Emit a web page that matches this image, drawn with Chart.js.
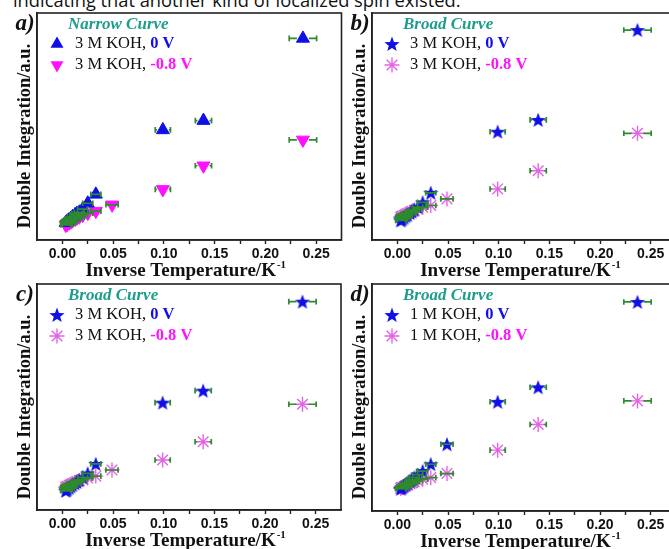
<!DOCTYPE html>
<html><head><meta charset="utf-8">
<script src="https://cdn.jsdelivr.net/npm/chart.js@4.4.0/dist/chart.umd.min.js"></script>
<style>
html,body{margin:0;padding:0;background:#fff;}
body{overflow:hidden;width:669px;height:549px;position:relative}
.pn{position:absolute}
.pn canvas{display:block}
#top{position:absolute;left:13px;top:-10px;font-family:"Open Sans";font-size:18.3px;line-height:20px;white-space:nowrap;color:#111}
</style></head><body>
<div id="top">indicating that another kind of localized spin existed.</div>
<div class="pn" style="left:0;top:0"><canvas id="ca" width="350" height="282"></canvas></div>
<div class="pn" style="left:335px;top:0"><canvas id="cb" width="350" height="282"></canvas></div>
<div class="pn" style="left:0;top:271px"><canvas id="cc" width="350" height="278"></canvas></div>
<div class="pn" style="left:335px;top:271px"><canvas id="cd" width="350" height="278"></canvas></div>
<script>
// ---------- data ----------
const xCluster = [0.0033,0.004,0.005,0.0067,0.0083,0.01,0.0125,0.0143,0.0167,0.02,0.025,0.033];
const xErrCluster = [0.005,0.005,0.005,0.005,0.005,0.005,0.005,0.005,0.005,0.005,0.005,0.005];
const xTail3 = [0.099,0.139,0.237];
const xErrTail3 = [0.0075,0.008,0.0135];
const xTail4 = [0.049,0.099,0.139,0.237];
const xErrTail4 = [0.006,0.0075,0.008,0.0135];

const a0V  = [0.76,0.79,0.83,0.89,0.95,1.02,1.11,1.17,1.22,1.36,1.62,2.01, 4.85,5.26,8.88];
const aM08 = [0.66,0.68,0.71,0.76,0.80,0.85,0.92,0.97,1.02,1.09,1.18,1.27, 1.55,2.23,3.27,4.41];
const b0V  = [0.86,0.89,0.93,0.99,1.05,1.10,1.19,1.25,1.33,1.45,1.66,2.08, 4.77,5.29,9.25];
const bM08 = [1.00,1.02,1.05,1.09,1.13,1.17,1.22,1.26,1.31,1.37,1.44,1.52, 1.81,2.25,3.05,4.70];
const c0V  = [0.85,0.88,0.92,0.98,1.04,1.10,1.18,1.24,1.32,1.44,1.62,2.04, 4.75,5.28,9.22];
const cM08 = [1.00,1.02,1.05,1.09,1.13,1.17,1.22,1.26,1.31,1.36,1.42,1.50, 1.77,2.21,3.02,4.68];
const d0V  = [0.98,1.01,1.05,1.11,1.17,1.23,1.32,1.38,1.48,1.60,1.76,2.06, 2.94,4.81,5.45,9.21];
const dM08 = [1.00,1.02,1.04,1.08,1.11,1.15,1.20,1.24,1.29,1.34,1.40,1.47, 1.65,2.68,3.81,4.85];

const xTickMin = -0.025, xTickMax = 0.275, xStep = 0.025;
const yMin = 0, yMax = 10;

const panelLetters = ['a)','b)','c)','d)'];
const curveTitles = ['Narrow Curve','Broad Curve','Broad Curve','Broad Curve'];
const electrolytes = ['3 M KOH, ','3 M KOH, ','3 M KOH, ','1 M KOH, '];
const potentials = ['0 V','-0.8 V'];
const yTitle = 'Double Integration/a.u.';
const xTitle = 'Inverse Temperature/K';
const xTitleSup = '-1';

// ---------- styles ----------
const BLUE = '#1010e6', MAG = '#ff10ff', AST = '#e563e5', GREEN = '#2f8a2f', TEAL = '#1f9c8c', AXIS = '#222';

function makeStar(r, color){
  const c = document.createElement('canvas');
  const s = Math.ceil(r*2+2); c.width = s; c.height = s;
  const g = c.getContext('2d');
  drawStar(g, s/2, s/2 + r*0.08, r, color);
  return c;
}
function drawStar(g, cx, cy, r, color){
  const ri = r*0.42;
  g.beginPath();
  for (let i=0;i<10;i++){
    const rr = i%2===0 ? r : ri;
    const a = -Math.PI/2 + i*Math.PI/5;
    const px = cx + rr*Math.cos(a), py = cy + rr*Math.sin(a);
    if (i===0) g.moveTo(px,py); else g.lineTo(px,py);
  }
  g.closePath(); g.fillStyle = color; g.fill();
}
const starImg = makeStar(8, BLUE);

function join(xa, xb){ return xa.concat(xb); }
function pts(xs, ys){ return xs.map((x,i)=>({x:x, y:ys[i]})); }

function seriesDefs(kind, ys0, ysM, tail0){
  const x0 = join(xCluster, tail0 ? xTail4 : xTail3);
  const e0 = join(xErrCluster, tail0 ? xErrTail4 : xErrTail3);
  const xM = join(xCluster, xTail4);
  const eM = join(xErrCluster, xErrTail4);
  let d0, dM;
  if (kind === 'tri'){
    d0 = {data: pts(x0, ys0), errX: e0, pointStyle:'triangle', rotation:0, pointRadius:7.5,
          backgroundColor: BLUE, borderColor: BLUE, borderWidth:1, marker:'up', mcolor:BLUE};
    dM = {data: pts(xM, ysM), errX: eM, pointStyle:'triangle', rotation:180, pointRadius:7.5,
          backgroundColor: MAG, borderColor: MAG, borderWidth:1, marker:'down', mcolor:MAG};
  } else {
    d0 = {data: pts(x0, ys0), errX: e0, pointStyle: starImg, pointRadius:8,
          backgroundColor: BLUE, borderColor: BLUE, marker:'star', mcolor:BLUE};
    dM = {data: pts(xM, ysM), errX: eM, pointStyle:'star', pointRadius:7.5, rotation:0,
          backgroundColor: AST, borderColor: AST, borderWidth:1.4, marker:'ast', mcolor:AST};
  }
  d0.showLine = false; dM.showLine = false;
  return [d0, dM];
}

// error bars: drawn over the markers; for wide bars the part hidden behind the marker is left out
const errPlugin = {
  id:'errbars',
  afterDatasetsDraw(chart){
    const {ctx, scales:{x, y}} = chart;
    ctx.save();
    ctx.strokeStyle = GREEN; ctx.lineWidth = 1.7;
    chart.data.datasets.forEach(ds=>{
      ds.data.forEach((p,i)=>{
        const e = ds.errX[i];
        const x1 = x.getPixelForValue(p.x - e), x2 = x.getPixelForValue(p.x + e);
        const pc = x.getPixelForValue(p.x);
        const py = y.getPixelForValue(p.y);
        const gap = (pc - x1) > 7 ? 6 : 0;
        ctx.beginPath();
        if (gap){
          ctx.moveTo(x1,py); ctx.lineTo(pc-gap,py);
          ctx.moveTo(pc+gap,py); ctx.lineTo(x2,py);
        } else {
          ctx.moveTo(x1,py); ctx.lineTo(x2,py);
        }
        ctx.moveTo(x1,py-2.8); ctx.lineTo(x1,py+2.8);
        ctx.moveTo(x2,py-2.8); ctx.lineTo(x2,py+2.8);
        ctx.stroke();
      });
    });
    ctx.restore();
  }
};

function drawMarker(g, type, cx, cy, color){
  g.save();
  g.fillStyle = color; g.strokeStyle = color;
  if (type === 'up' || type === 'down'){
    const r = 7.5, s = type==='up' ? 1 : -1;
    g.beginPath();
    for (let k=0;k<3;k++){
      const a = k*2*Math.PI/3;
      const px = cx + Math.sin(a)*r, py = cy - s*Math.cos(a)*r;
      if (k===0) g.moveTo(px,py); else g.lineTo(px,py);
    }
    g.closePath(); g.fill();
  } else if (type === 'star'){
    drawStar(g, cx, cy+0.6, 8, color);
  } else {
    g.lineWidth = 1.4;
    const r = 7.5;
    g.beginPath();
    for (let k=0;k<4;k++){
      const a = k*Math.PI/4;
      g.moveTo(cx - r*Math.cos(a), cy - r*Math.sin(a));
      g.lineTo(cx + r*Math.cos(a), cy + r*Math.sin(a));
    }
    g.stroke();
  }
  g.restore();
}

const textPlugin = {
  id:'texts',
  afterDraw(chart){
    const g = chart.ctx;
    const {left:L, top:T, right:R, bottom:B} = chart.chartArea;
    const o = chart.options.plugins.texts;
    g.save();
    // frame
    g.strokeStyle = AXIS; g.lineWidth = 1.6;
    g.strokeRect(L, T, R-L, B-T);
    // panel letter
    g.fillStyle = '#111';
    g.font = 'italic bold 23px "Liberation Serif"';
    g.textAlign = 'center'; g.textBaseline = 'middle';
    g.fillText(o.letter, L-12, T+11);
    // y title
    g.save();
    g.translate(L-12, T+123);
    g.rotate(-Math.PI/2);
    g.font = 'bold 18.5px "Liberation Serif"';
    g.textAlign = 'center'; g.textBaseline = 'middle';
    g.fillText(yTitle, 0, 0);
    g.restore();
    // x title
    g.font = 'bold 19px "Liberation Serif"';
    const wMain = g.measureText(xTitle).width;
    g.font = 'bold 11px "Liberation Serif"';
    const wSup = g.measureText(xTitleSup).width;
    const cx = (L+R)/2 - 4;
    const x0 = cx - (wMain + wSup)/2;
    g.textAlign = 'left'; g.textBaseline = 'alphabetic';
    g.font = 'bold 19px "Liberation Serif"';
    g.fillText(xTitle, x0, B+36);
    g.font = 'bold 11px "Liberation Serif"';
    g.fillText(xTitleSup, x0 + wMain + 1, B+28);
    // legend
    g.textBaseline = 'middle';
    g.font = 'italic bold 17px "Liberation Serif"';
    g.fillStyle = TEAL;
    g.fillText(o.title, L+31, T+12);
    chart.data.datasets.forEach((ds, i)=>{
      const yy = T + 31 + i*21;
      drawMarker(g, ds.marker, L+20, yy, ds.mcolor);
      g.font = '16.5px "Liberation Serif"';
      g.fillStyle = '#111';
      g.fillText(o.elec, L+38, yy);
      const w = g.measureText(o.elec).width;
      g.font = 'bold 16.5px "Liberation Serif"';
      g.fillStyle = i===0 ? BLUE : MAG;
      g.fillText(potentials[i], L+38+w, yy);
    });
    g.restore();
  }
};

function makePanel(id, idx, kind, ys0, ysM, tail0, padTop, yW, padRight, xH){
  const ds = seriesDefs(kind, ys0, ysM, tail0);
  new Chart(document.getElementById(id), {
    type:'scatter',
    data:{datasets: ds},
    options:{
      responsive:false, animation:false, events:[],
      layout:{padding:{top:padTop, right:padRight, left:0, bottom:0}},
      plugins:{legend:{display:false}, tooltip:{enabled:false},
        texts:{letter: panelLetters[idx], title: curveTitles[idx], elec: electrolytes[idx]}},
      scales:{
        x:{type:'linear', min:xTickMin, max:xTickMax,
          afterFit(s){ s.height = xH; },
          border:{display:true, color:AXIS, width:1.6},
          grid:{display:true, drawOnChartArea:false, drawTicks:true, tickLength:4, tickWidth:1.4,
            color:(c)=>{ const v = c.tick ? Math.round(c.tick.value*1000) : 0; return (v<=-25 || v>=275) ? 'rgba(0,0,0,0)' : AXIS; }},
          ticks:{stepSize:xStep, autoSkip:false, maxRotation:0, minRotation:0, padding:2,
            color:'#111', font:{family:'"Liberation Sans"', size:14, weight:'bold'},
            callback:(v)=>{ const r = Math.round(v*1000); return (r%50===0 && r>=0 && r<=250) ? (r/1000).toFixed(2) : ''; }}
        },
        y:{type:'linear', min:yMin, max:yMax,
          afterFit(s){ s.width = yW; },
          border:{display:true, color:AXIS, width:1.6},
          grid:{display:false},
          ticks:{display:false}
        }
      }
    },
    plugins:[errPlugin, textPlugin]
  });
}

makePanel('ca', 0, 'tri',  a0V, aM08, false, 13, 37, 7, 42);
makePanel('cb', 1, 'star', b0V, bM08, false, 13, 37, 7, 42);
makePanel('cc', 2, 'star', c0V, cM08, false, 13, 37, 7, 39);
makePanel('cd', 3, 'star', d0V, dM08, true,  13, 37, 7, 38);
</script>
</body></html>
